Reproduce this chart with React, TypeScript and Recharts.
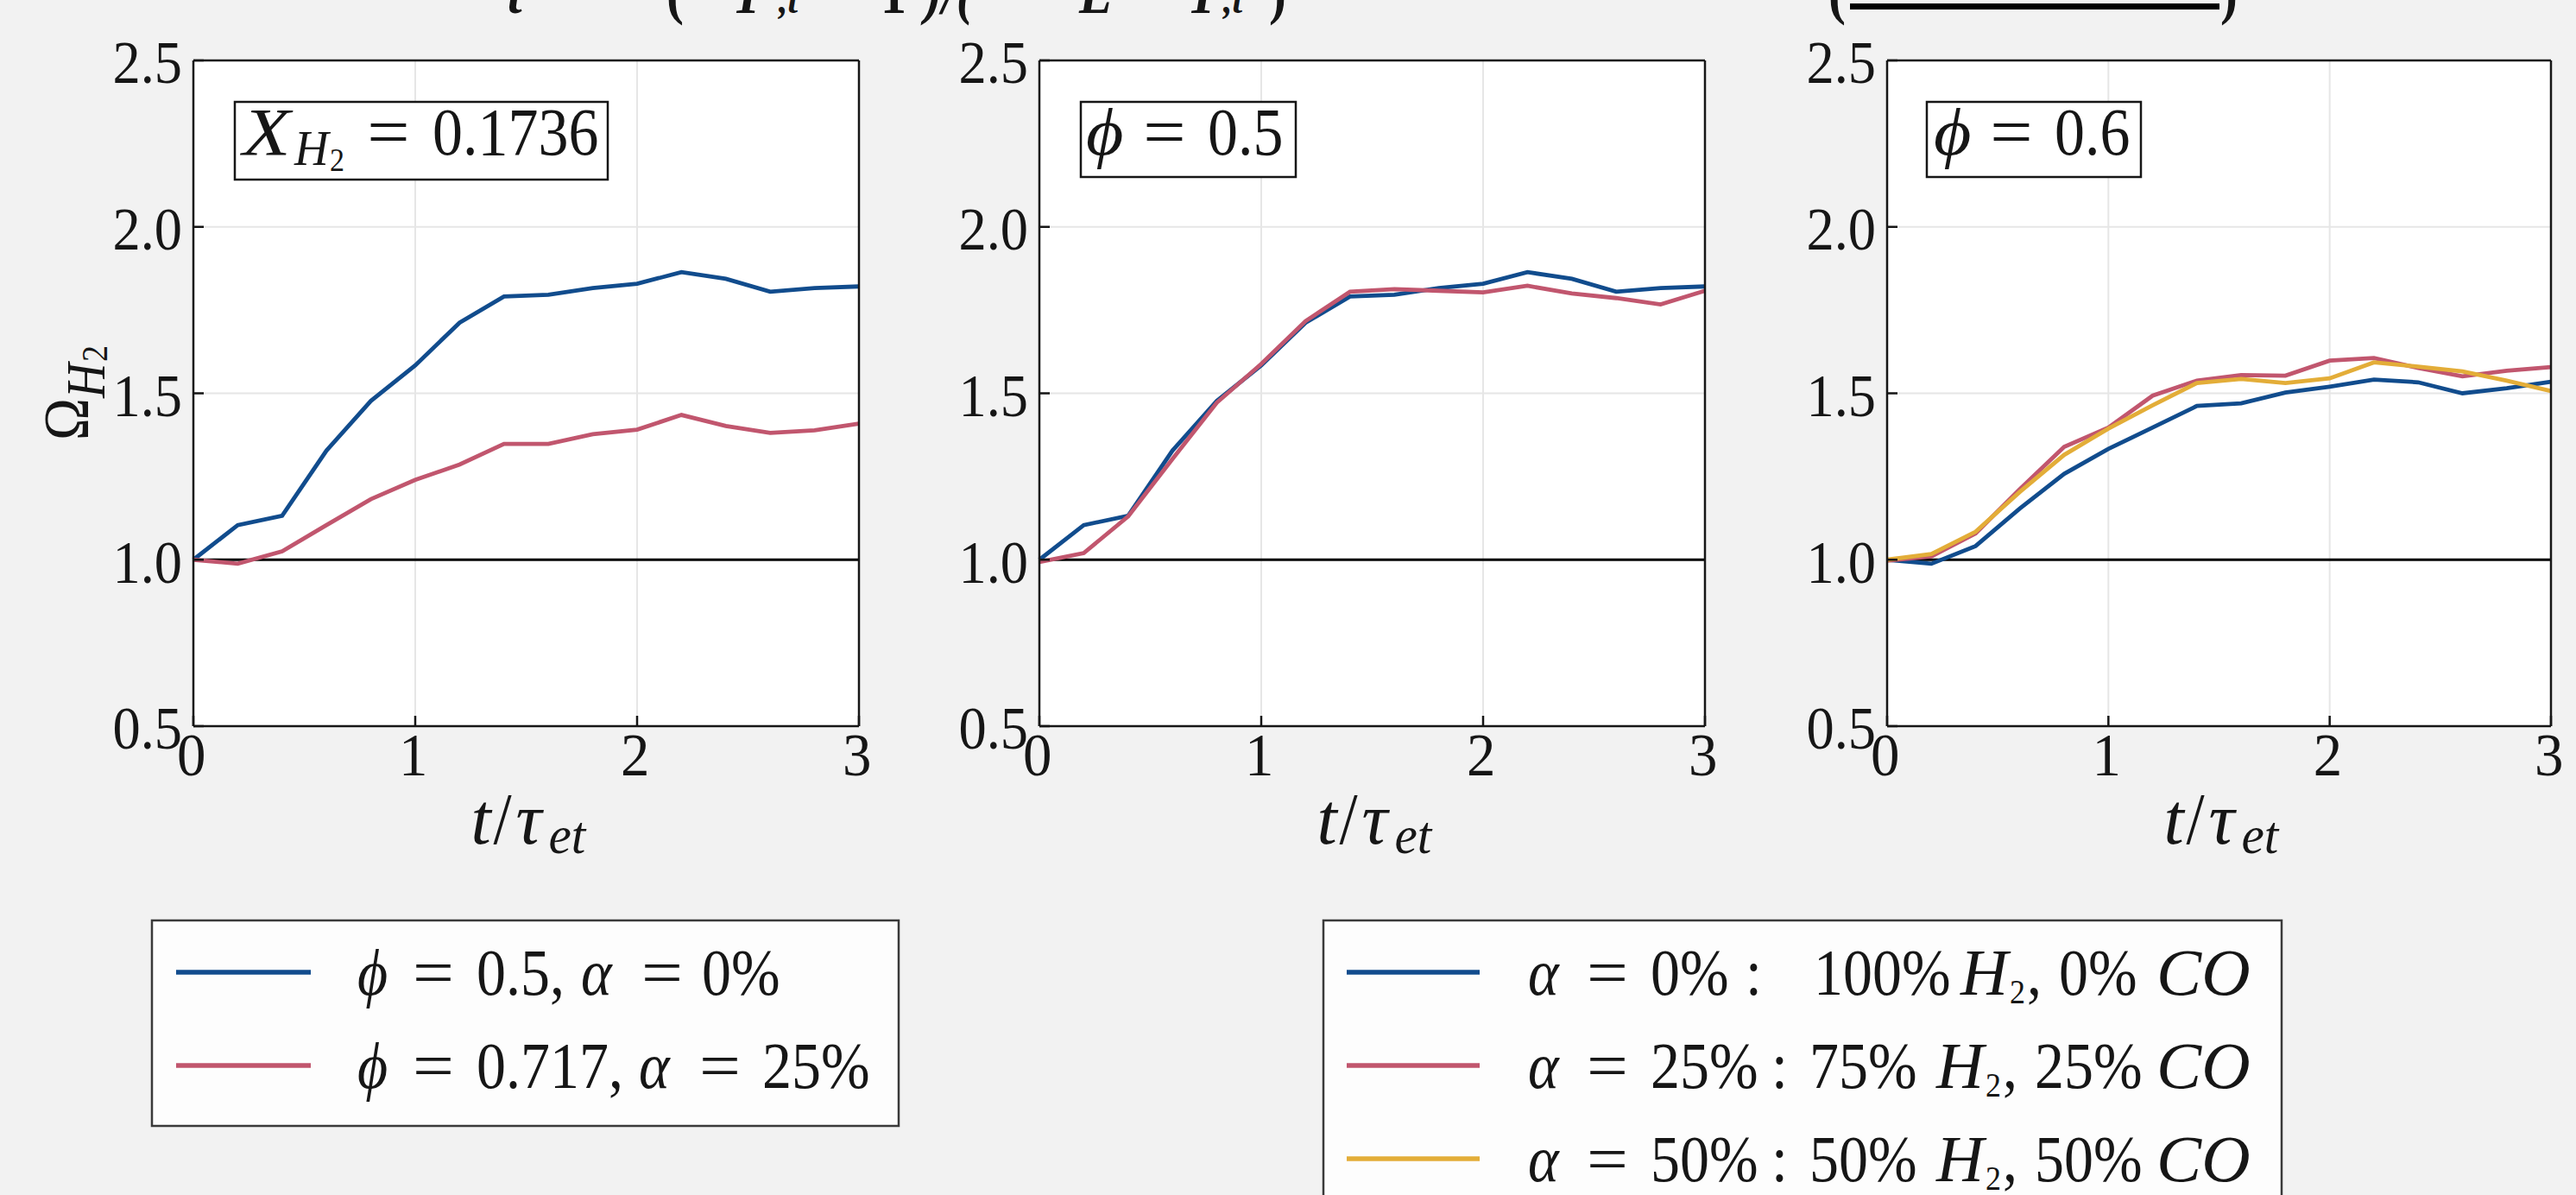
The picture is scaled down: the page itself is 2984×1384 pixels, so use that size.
import { CartesianGrid, Line, LineChart, ReferenceLine, XAxis, YAxis } from 'recharts'

const times = [0, 0.2, 0.4, 0.6, 0.8, 1.0, 1.2, 1.4, 1.6, 1.8, 2.0, 2.2, 2.4, 2.6, 2.8, 3.0]

// phi = 0.5, alpha = 0% (same run shown in panels 1 and 2)
const phi05a0 = [1.0, 1.104, 1.132, 1.328, 1.477, 1.584, 1.712, 1.791, 1.796, 1.816, 1.829, 1.864, 1.844, 1.805, 1.816, 1.821]
// phi = 0.717, alpha = 25%
const phi0717a25 = [1.0, 0.988, 1.025, 1.104, 1.182, 1.24, 1.286, 1.348, 1.348, 1.377, 1.391, 1.435, 1.402, 1.381, 1.389, 1.409]
// phi = 0.5, alpha = 25%
const phi05a25 = [0.993, 1.02, 1.13, 1.303, 1.472, 1.588, 1.717, 1.805, 1.813, 1.808, 1.803, 1.823, 1.8, 1.786, 1.767, 1.808]
// phi = 0.6, alpha = 0 / 25 / 50%
const phi06a0 = [1.0, 0.988, 1.041, 1.154, 1.258, 1.333, 1.397, 1.462, 1.47, 1.502, 1.52, 1.541, 1.533, 1.5, 1.515, 1.535]
const phi06a25 = [0.997, 1.01, 1.079, 1.212, 1.339, 1.397, 1.493, 1.538, 1.555, 1.553, 1.598, 1.606, 1.576, 1.551, 1.568, 1.579]
const phi06a50 = [1.0, 1.017, 1.084, 1.204, 1.315, 1.394, 1.464, 1.531, 1.543, 1.531, 1.545, 1.593, 1.58, 1.566, 1.538, 1.507]

const xTicks = [0, 1, 2, 3]
const yTicks = [0.5, 1.0, 1.5, 2.0, 2.5]

const BLUE = '#114c8d'
const RED = '#c1566e'
const YELLOW = '#e3ad38'
const INK = '#161616'
const FONT = '"Liberation Serif", "DejaVu Serif", serif'
const VS = 1.12 // the source image is a bit taller than wide

const PAD_LEFT = 230
const PLOT_TOP = 70
const PLOT_H = 771
const CHART_H = 1040

type Series = { key: string; values: number[]; color: string }

const panels: { left: number; width: number; series: Series[] }[] = [
  {
    left: 224,
    width: 771,
    series: [
      { key: 'a0', values: phi05a0, color: BLUE },
      { key: 'a25', values: phi0717a25, color: RED },
    ],
  },
  {
    left: 1204,
    width: 771,
    series: [
      { key: 'a0', values: phi05a0, color: BLUE },
      { key: 'a25', values: phi05a25, color: RED },
    ],
  },
  {
    left: 2186,
    width: 769,
    series: [
      { key: 'a0', values: phi06a0, color: BLUE },
      { key: 'a25', values: phi06a25, color: RED },
      { key: 'a50', values: phi06a50, color: YELLOW },
    ],
  },
]

const frame = { stroke: INK, strokeWidth: 2.5 }

function XTick(props: any) {
  const { x, payload } = props
  return (
    <g transform={`translate(${x},${PLOT_TOP + PLOT_H}) scale(1.08,${VS})`}>
      <text x={-2} y={57 / VS} textAnchor="middle" fontFamily={FONT} fontSize={62} fill={INK}>
        {payload.value}
      </text>
    </g>
  )
}

function YTick(props: any) {
  const { y, payload } = props
  return (
    <g transform={`translate(${PAD_LEFT - 13},${y}) scale(1.04,${VS})`}>
      <text x={0} y={(3.5 + 0.33 * 62 * VS) / VS} textAnchor="end" fontFamily={FONT} fontSize={62} fill={INK}>
        {Number(payload.value).toFixed(1)}
      </text>
    </g>
  )
}

function Panel({ left, width, series }: { left: number; width: number; series: Series[] }) {
  const data = times.map((t, i) => {
    const row: Record<string, number> = { t }
    series.forEach((s) => (row[s.key] = s.values[i]))
    return row
  })
  const W = PAD_LEFT + width + 1 + 20
  return (
    <div style={{ position: 'absolute', left: left - PAD_LEFT, top: 0 }}>
      <LineChart width={W} height={CHART_H} data={data} margin={{ top: PLOT_TOP - 1, right: 20, bottom: 0, left: 0 }}>
        <CartesianGrid fill="#ffffff" stroke="#e6e6e6" strokeWidth={2} />
        <XAxis
          dataKey="t"
          type="number"
          domain={[0, 3]}
          ticks={xTicks}
          interval={0}
          height={CHART_H - PLOT_TOP - PLOT_H}
          tickSize={-12}
          tickMargin={12}
          tick={<XTick />}
          axisLine={frame}
          tickLine={frame}
        />
        <XAxis
          xAxisId="top"
          orientation="top"
          dataKey="t"
          type="number"
          domain={[0, 3]}
          ticks={xTicks}
          interval={0}
          height={1}
          tickSize={-12}
          tick={false}
          axisLine={frame}
          tickLine={frame}
        />
        <YAxis
          type="number"
          domain={[0.5, 2.5]}
          ticks={yTicks}
          interval={0}
          width={PAD_LEFT}
          tickSize={-12}
          tickMargin={12}
          tick={<YTick />}
          axisLine={frame}
          tickLine={frame}
        />
        <YAxis
          yAxisId="r"
          orientation="right"
          type="number"
          domain={[0.5, 2.5]}
          ticks={yTicks}
          interval={0}
          width={1}
          tickSize={-12}
          tick={false}
          axisLine={frame}
          tickLine={frame}
        />
        <ReferenceLine y={1} stroke="#000" strokeWidth={3} />
        {series.map((s) => (
          <Line
            key={s.key}
            type="linear"
            dataKey={s.key}
            stroke={s.color}
            strokeWidth={4.8}
            dot={false}
            isAnimationActive={false}
          />
        ))}
      </LineChart>
    </div>
  )
}

type Piece = { s: string; x: number; it?: boolean; size?: number; dy?: number; mid?: boolean; sx?: number; bold?: boolean }

function MathLine({ y, size, pieces }: { y: number; size: number; pieces: Piece[] }) {
  return (
    <g>
      {pieces.map((p, i) => (
        <g key={i} transform={`translate(${p.x},${y + (p.dy ?? 0)}) scale(${p.sx ?? 1},${VS})`}>
          <text
            x={0}
            y={0}
            textAnchor={p.mid ? 'middle' : 'start'}
            fontFamily={FONT}
            fontSize={p.size ?? size}
            fontStyle={p.it ? 'italic' : 'normal'}
            fontWeight={p.bold ? 700 : 400}
            fill={INK}
          >
            {p.s}
          </text>
        </g>
      ))}
    </g>
  )
}

const PHI = '\u03D5'
const eq = (cx: number): Piece => ({ s: '=', x: cx, mid: true, sx: 1.25 })

function AxisTitle({ cx }: { cx: number }) {
  return (
    <MathLine
      y={977}
      size={76}
      pieces={[
        { s: 't', x: cx - 64, it: true, sx: 1.1 },
        { s: '/', x: cx - 38 },
        { s: '\u03C4', x: cx - 12, it: true, sx: 1.1 },
        { s: 'et', x: cx + 26, it: true, size: 54, dy: 11, sx: 1.1 },
      ]}
    />
  )
}

function Overlay() {
  const legendLeft = [
    { color: BLUE, y: 1152, pieces: [
      { s: PHI, x: 414, it: true }, eq(502), { s: '0.5,', x: 552 }, { s: '\u03B1', x: 673, it: true }, eq(767), { s: '0%', x: 813 },
    ] },
    { color: RED, y: 1260, pieces: [
      { s: PHI, x: 414, it: true }, eq(502), { s: '0.717,', x: 552 }, { s: '\u03B1', x: 740, it: true }, eq(834), { s: '25%', x: 883 },
    ] },
  ]
  const mix = (a: string, h: string, c: string, colonX: number, hX: number, restX: number, startX: number): Piece[] => [
    { s: '\u03B1', x: 1770, it: true }, eq(1862), { s: a, x: 1912 }, { s: ':', x: colonX },
    { s: h, x: startX }, { s: 'H', x: hX, it: true, sx: 1.12 }, { s: '2', x: hX + 57, size: 36, dy: 10 }, { s: ',', x: hX + 77 },
    { s: c, x: restX }, { s: 'CO', x: 2498, it: true, sx: 1.15 },
  ]
  const legendRight = [
    { color: BLUE, y: 1152, pieces: mix('0%', '100%', '0%', 2022, 2271, 2385, 2101) },
    { color: RED, y: 1260, pieces: mix('25%', '75%', '25%', 2052, 2243, 2357, 2096) },
    { color: YELLOW, y: 1368, pieces: mix('50%', '50%', '50%', 2052, 2243, 2357, 2096) },
  ]
  return (
    <svg width={2984} height={1384} style={{ position: 'absolute', left: 0, top: 0, pointerEvents: 'none' }}>
      {/* equation from the slide above, cut by the page top as in the source */}
      <MathLine
        y={15}
        size={60}
        pieces={[
          { s: 't', x: 588, it: true, bold: true },
          { s: '(', x: 772, bold: true },
          { s: 'T', x: 848, it: true, bold: true },
          { s: ',t', x: 902, it: true, bold: true, size: 42 },
          { s: '1', x: 1020, bold: true },
          { s: ')/(', x: 1071, bold: true, it: true },
          { s: 'E', x: 1250, it: true, bold: true },
          { s: 'T', x: 1375, it: true, bold: true },
          { s: ',t', x: 1417, it: true, bold: true, size: 42 },
          { s: ')', x: 1470, bold: true },
          { s: '(', x: 2118, bold: true },
          { s: ')', x: 2572, bold: true },
        ]}
      />
      <rect x={2143} y={4} width={428} height={7} fill="#000" />

      {/* panel annotations */}
      <rect x={272} y={118} width={432} height={90} fill="#fff" stroke={INK} strokeWidth={2.5} />
      <MathLine
        y={179}
        size={70}
        pieces={[
          { s: 'X', x: 281, it: true, sx: 1.3 },
          { s: 'H', x: 341, it: true, size: 50, dy: 12, sx: 1.1 },
          { s: '2', x: 382, size: 34, dy: 19 },
          eq(450),
          { s: '0.1736', x: 501 },
        ]}
      />
      <rect x={1252} y={118} width={249} height={87} fill="#fff" stroke={INK} strokeWidth={2.5} />
      <MathLine y={179} size={70} pieces={[{ s: PHI, x: 1258, it: true, sx: 1.2 }, eq(1349), { s: '0.5', x: 1399 }]} />
      <rect x={2232} y={118} width={248} height={87} fill="#fff" stroke={INK} strokeWidth={2.5} />
      <MathLine y={179} size={70} pieces={[{ s: PHI, x: 2240, it: true, sx: 1.2 }, eq(2330), { s: '0.6', x: 2380 }]} />

      {/* axis titles */}
      {panels.map((p, i) => (
        <AxisTitle key={i} cx={p.left + p.width / 2} />
      ))}
      <g transform="translate(102,455) rotate(-90)">
        <MathLine
          y={0}
          size={66}
          pieces={[
            { s: '\u03A9', x: -55 },
            { s: 'H', x: -6, it: true, size: 56, dy: 19 },
            { s: '2', x: 36, size: 38, dy: 22 },
          ]}
        />
      </g>

      {/* legends */}
      <rect x={176} y={1066} width={865} height={238} fill="#fdfdfd" stroke="#3a3a3a" strokeWidth={2.5} />
      {legendLeft.map((r, i) => (
        <g key={i}>
          <line x1={204} x2={360} y1={r.y - 26} y2={r.y - 26} stroke={r.color} strokeWidth={5.5} />
          <MathLine y={r.y} size={68} pieces={r.pieces as Piece[]} />
        </g>
      ))}
      <rect x={1533} y={1066} width={1110} height={340} fill="#fdfdfd" stroke="#3a3a3a" strokeWidth={2.5} />
      {legendRight.map((r, i) => (
        <g key={i}>
          <line x1={1560} x2={1714} y1={r.y - 26} y2={r.y - 26} stroke={r.color} strokeWidth={5.5} />
          <MathLine y={r.y} size={68} pieces={r.pieces} />
        </g>
      ))}
    </svg>
  )
}

export default function App() {
  return (
    <div style={{ position: 'absolute', left: 0, top: 0, width: 2984, height: 1384, background: '#f2f2f2', overflow: 'hidden' }}>
      {panels.map((p, i) => (
        <Panel key={i} left={p.left} width={p.width} series={p.series} />
      ))}
      <Overlay />
    </div>
  )
}
